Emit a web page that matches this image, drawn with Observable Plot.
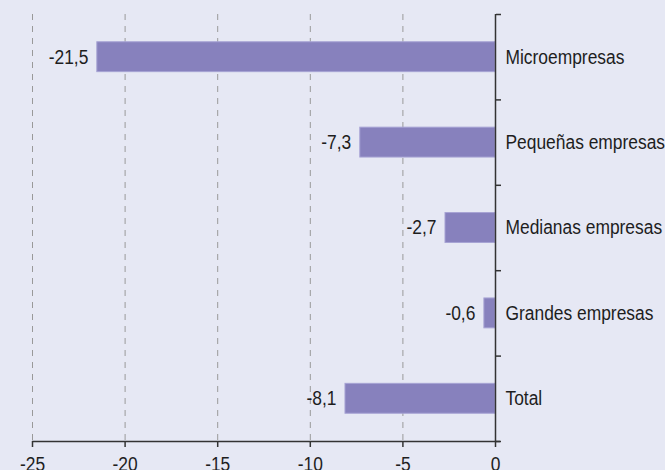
<!DOCTYPE html>
<html>
<head>
<meta charset="utf-8">
<script src="https://cdn.jsdelivr.net/npm/d3@7"></script>
<script src="https://cdn.jsdelivr.net/npm/@observablehq/plot@0.6"></script>
<style>
  html, body { margin: 0; padding: 0; background: #e6e8f4; }
  #chart svg { display: block; }
</style>
</head>
<body>
<div id="chart"></div>
<script>
const categories = ["Microempresas", "Pequeñas empresas", "Medianas empresas", "Grandes empresas", "Total"];
const values = [-21.5, -7.3, -2.7, -0.6, -8.1];
const xTicks = [-25, -20, -15, -10, -5, 0];
const gridTicks = [-25, -20, -15, -10, -5];

const data = categories.map((c, i) => ({category: c, index: i, value: values[i]}));
const fmt = v => v.toFixed(1).replace(".", ",");
const font = "'Liberation Sans', Arial, sans-serif";

const chart = Plot.plot({
  width: 665,
  height: 470,
  marginLeft: 32,
  marginRight: 170,
  marginTop: 14,
  marginBottom: 29,
  style: {background: "#e6e8f4", fontFamily: font, fontSize: "20px", color: "#1e1e1e", overflow: "visible"},
  x: {domain: [-25, 0], label: null},
  y: {domain: [categories.length, 0], label: null},
  marks: [
    Plot.ruleX(gridTicks, {y1: 0, y2: categories.length, stroke: "#999", strokeWidth: 1, strokeDasharray: "6,6"}),
    Plot.rectX(data, {
      x1: 0, x2: "value",
      y1: d => d.index + 0.5 - 0.175,
      y2: d => d.index + 0.5 + 0.175,
      fill: "#8781bd", stroke: "#a7a3d4", strokeWidth: 1
    }),
    Plot.text(data, {x: "value", y: d => d.index + 0.5, text: d => fmt(d.value), textAnchor: "end", dx: -9, fill: "#1e1e1e", fontSize: 20}),
    Plot.text(data, {x: 0, y: d => d.index + 0.5, text: "category", textAnchor: "start", dx: 10, fill: "#1e1e1e", fontSize: 20}),
    Plot.ruleX([0], {y1: 0, y2: categories.length, stroke: "#333", strokeWidth: 1.5}),
    Plot.ruleY([categories.length], {x1: -25, x2: 0, insetRight: -5, stroke: "#333", strokeWidth: 1.5}),
    Plot.axisY({anchor: "right", ticks: d3.range(categories.length + 1), tickFormat: () => "", tickSize: 5, stroke: "#333", strokeWidth: 1.5, label: null}),
    Plot.axisX({anchor: "bottom", ticks: xTicks, tickFormat: d => String(d), tickSize: 6, tickPadding: 9, stroke: "#333", strokeWidth: 1.5, fill: "#1e1e1e", fontSize: 20, label: null})
  ]
});

// condensed look: squeeze every text horizontally around its anchor point
chart.querySelectorAll("text").forEach(t => {
  const tr = t.getAttribute("transform");
  if (tr && !t.hasAttribute("x")) {
    t.setAttribute("transform", `${tr} scale(0.87,1)`);
  } else {
    const x = +(t.getAttribute("x") || 0);
    const y = +(t.getAttribute("y") || 0);
    t.setAttribute("transform", `${tr || ""} translate(${x},${y}) scale(0.87,1) translate(${-x},${-y})`);
  }
});
document.getElementById("chart").appendChild(chart);
</script>
</body>
</html>
